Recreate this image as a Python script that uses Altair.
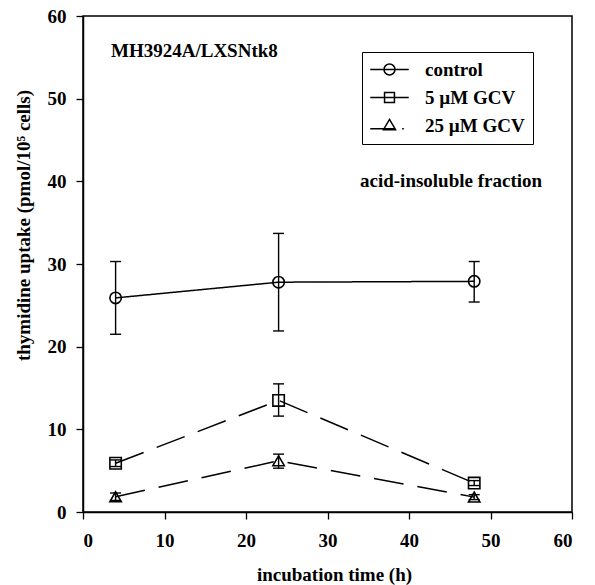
import altair as alt
import pandas as pd

series = ["control", "5 µM GCV", "25 µM GCV"]
times = [4, 24, 48]
control = [25.9, 27.8, 27.9]
control_lo = [21.5, 21.9, 25.4]
control_hi = [30.3, 33.7, 30.3]
gcv5 = [5.9, 13.5, 3.5]
gcv5_lo = [5.5, 11.6, 3.2]
gcv5_hi = [6.3, 15.5, 3.8]
gcv25 = [1.85, 6.2, 1.8]
gcv25_lo = [1.4, 5.3, 1.5]
gcv25_hi = [2.3, 7.0, 2.1]

rows = []
for name, vals, lo, hi in [(series[0], control, control_lo, control_hi),
                           (series[1], gcv5, gcv5_lo, gcv5_hi),
                           (series[2], gcv25, gcv25_lo, gcv25_hi)]:
    for t, v, l, h in zip(times, vals, lo, hi):
        rows.append({"series": name, "t": t, "v": v, "lo": l, "hi": h})
df = pd.DataFrame(rows)

FONT = "Liberation Serif"
FS = 19

xenc = alt.X("t:Q", scale=alt.Scale(domain=[0, 60]),
             axis=alt.Axis(values=[0, 10, 20, 30, 40, 50, 60], title="incubation time (h)",
                           titleX=251, titleY=68, titleBaseline="alphabetic", labelPadding=12))
yenc = alt.Y("v:Q", scale=alt.Scale(domain=[0, 60]),
             axis=alt.Axis(values=[0, 10, 20, 30, 40, 50, 60],
                           title="thymidine uptake (pmol/10⁵ cells)",
                           titleX=-54, titleY=209, titleBaseline="alphabetic",
                           titleAngle=-90, titleAlign="center", labelPadding=10))

base = alt.Chart(df)

lines = base.mark_line(color="black", strokeWidth=1.5).encode(
    x=xenc, y=yenc, detail="series:N",
    strokeDash=alt.StrokeDash("series:N", scale=alt.Scale(domain=series, range=[[1, 0], [30, 14], [30, 14]]),
                              legend=None),
)

err = base.mark_rule(color="black", strokeWidth=1.4).encode(
    x="t:Q", y="lo:Q", y2="hi:Q"
)
caps_hi = base.mark_rule(color="black", strokeWidth=1.4, xOffset=-5.5, x2Offset=5.5).encode(
    x="t:Q", x2="t:Q", y="hi:Q"
)
caps_lo = base.mark_rule(color="black", strokeWidth=1.4, xOffset=-5.5, x2Offset=5.5).encode(
    x="t:Q", x2="t:Q", y="lo:Q"
)

points = base.mark_point(filled=False, color="black", strokeWidth=1.6, size=130, opacity=1).encode(
    x="t:Q", y="v:Q",
    shape=alt.Shape("series:N", scale=alt.Scale(domain=series, range=["circle", "square", "triangle-up"]),
                    legend=None),
)

leg_paths = [
    "M-3.5,0H3.5M1,0A1,1 0 1,1 -1,0A1,1 0 1,1 1,0",
    "M-3.5,0H3.5M-0.9,-0.9H0.9V0.9H-0.9Z",
    "M-3.5,0.6H1.1M2.3,0.6H2.6M0,-1.1L1.1,0.75H-1.1Z",
]
legend_layer = base.mark_point(filled=False, color="black", opacity=0).encode(
    x="t:Q", y="v:Q",
    shape=alt.Shape("series:N", scale=alt.Scale(domain=series, range=leg_paths),
                    legend=alt.Legend(title=None, orient="none", legendX=279, legendY=36,
                                      padding=8, strokeColor="black", fillColor="white",
                                      symbolSize=121, symbolStrokeWidth=1.5, symbolStrokeColor="black",
                                      symbolFillColor="transparent", symbolOpacity=1,
                                      symbolOffset=10, labelOffset=26, rowPadding=8,
                                      labelFont=FONT, labelFontSize=FS, labelFontWeight="bold",
                                      labelColor="black")),
)

label1 = alt.Chart(pd.DataFrame({"txt": ["MH3924A/LXSNtk8"]})).mark_text(
    font=FONT, fontSize=FS, fontWeight="bold", align="left", baseline="alphabetic", color="black"
).encode(x=alt.value(28), y=alt.value(41), text="txt:N")

label2 = alt.Chart(pd.DataFrame({"txt": ["acid-insoluble fraction"]})).mark_text(
    font=FONT, fontSize=FS, fontWeight="bold", align="left", baseline="alphabetic", color="black"
).encode(x=alt.value(277), y=alt.value(171), text="txt:N")

chart = alt.layer(lines, err, caps_hi, caps_lo, points, legend_layer, label1, label2).resolve_scale(
    shape="independent"
).properties(
    width=489, height=496,
    background="white",
    autosize=alt.AutoSizeParams(type="none"),
    padding={"left": 83, "top": 16, "right": 23, "bottom": 73},
).configure_view(
    stroke="black", strokeWidth=1.5
).configure_axis(
    grid=False, domainColor="black", domainWidth=1.5, tickColor="black", tickWidth=1.3, tickSize=7,
    labelFont=FONT, labelFontSize=FS, labelFontWeight="bold", labelColor="black",
    titleFont=FONT, titleFontSize=FS, titleFontWeight="bold", titleColor="black",
)

chart.save("out.html", embed_options={"renderer": "svg", "actions": False})
